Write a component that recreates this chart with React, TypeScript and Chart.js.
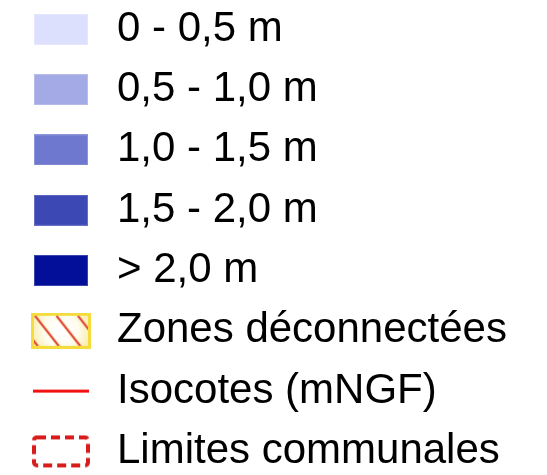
import React, { useEffect, useRef } from 'react';
import { Chart, registerables } from 'chart.js';

Chart.register(...registerables);

// ---- Legend content ----
const legendLabels = [
  '0 - 0,5 m',
  '0,5 - 1,0 m',
  '1,0 - 1,5 m',
  '1,5 - 2,0 m',
  '> 2,0 m',
  'Zones déconnectées',
  'Isocotes (mNGF)',
  'Limites communales',
];
const symbolKinds = ['fill', 'fill', 'fill', 'fill', 'fill', 'hatch', 'line', 'dashed'];
const symbolColors = ['#dce0fc', '#a4aae6', '#6e78cf', '#3c48b4', '#030f99', '#e0403c', '#f21212', '#d81c1c'];

const zoneBorderColor = '#f4dc3c';
const FONT_FAMILY = "'Liberation Sans', Arial, Helvetica, sans-serif";

function lighten(hex: string, t: number): string {
  const n = parseInt(hex.slice(1), 16);
  const r = (n >> 16) & 255, g = (n >> 8) & 255, b = n & 255;
  const f = (v: number) => Math.round(v + (255 - v) * t);
  return `rgb(${f(r)},${f(g)},${f(b)})`;
}

function makeSymbol(kind: string, color: string): HTMLCanvasElement {
  const c = document.createElement('canvas');
  const ctx = c.getContext('2d')!;
  if (kind === 'fill') {
    c.width = 54; c.height = 31;
    ctx.fillStyle = color;
    ctx.fillRect(0, 0, 54, 31);
    ctx.strokeStyle = lighten(color, 0.22);
    ctx.lineWidth = 1;
    ctx.strokeRect(0.5, 0.5, 53, 30);
  } else if (kind === 'hatch') {
    c.width = 60; c.height = 36;
    ctx.fillStyle = zoneBorderColor;
    ctx.fillRect(0, 0, 60, 36);
    const g = ctx.createRadialGradient(30, 18, 0, 30, 18, 30);
    g.addColorStop(0, '#ffffff');
    g.addColorStop(0.55, '#fffdf0');
    g.addColorStop(1, '#faedb0');
    ctx.fillStyle = g;
    ctx.fillRect(3, 3, 54, 30);
    ctx.save();
    ctx.beginPath();
    ctx.rect(3, 3, 54, 30);
    ctx.clip();
    const starts = [-17, 4, 25.5, 47];
    for (const x0 of starts) {
      ctx.beginPath();
      ctx.moveTo(x0, 3);
      ctx.lineTo(x0 + 40, 3 + 40 * 1.27);
      ctx.strokeStyle = 'rgba(235,140,60,0.55)';
      ctx.lineWidth = 3.2;
      ctx.stroke();
      ctx.strokeStyle = color;
      ctx.lineWidth = 1.6;
      ctx.stroke();
    }
    ctx.restore();
  } else if (kind === 'line') {
    c.width = 56; c.height = 5;
    ctx.fillStyle = color;
    ctx.fillRect(0, 1, 56, 3);
  } else {
    c.width = 62; c.height = 36;
    ctx.strokeStyle = color;
    ctx.lineWidth = 4;
    ctx.setLineDash([9, 5]);
    ctx.beginPath();
    (ctx as any).roundRect(4, 4, 54, 28, 3);
    ctx.stroke();
  }
  return c;
}

export default function App() {
  const ref = useRef<HTMLCanvasElement>(null);

  useEffect(() => {
    const symbols = symbolKinds.map((k, i) => makeSymbol(k, symbolColors[i]));
    const chart = new Chart(ref.current!, {
      type: 'bar',
      data: {
        labels: [],
        datasets: legendLabels.map((label, i) => ({
          label,
          data: [],
          backgroundColor: symbolColors[i],
        })),
      },
      options: {
        animation: false,
        responsive: true,
        maintainAspectRatio: false,
        events: [],
        layout: { padding: { left: 7.7, top: 0, right: 0, bottom: 0 } },
        scales: { x: { display: false }, y: { display: false } },
        plugins: {
          tooltip: { enabled: false },
          legend: {
            position: 'left',
            align: 'start',
            maxWidth: 540,
            labels: {
              usePointStyle: true,
              pointStyleWidth: 70,
              padding: 18.3,
              color: '#000',
              font: { family: FONT_FAMILY, size: 42 },
              generateLabels: () =>
                legendLabels.map((text, i) => ({
                  text,
                  pointStyle: symbols[i] as any,
                  fillStyle: 'transparent',
                  strokeStyle: 'transparent',
                  lineWidth: 0,
                  hidden: false,
                  datasetIndex: i,
                  fontColor: '#000',
                })),
            },
          },
        },
      } as any,
    });
    return () => chart.destroy();
  }, []);

  return (
    <div style={{ position: 'fixed', left: 0, top: -10.2, width: 547, height: 520 }}>
      <canvas ref={ref} />
    </div>
  );
}
